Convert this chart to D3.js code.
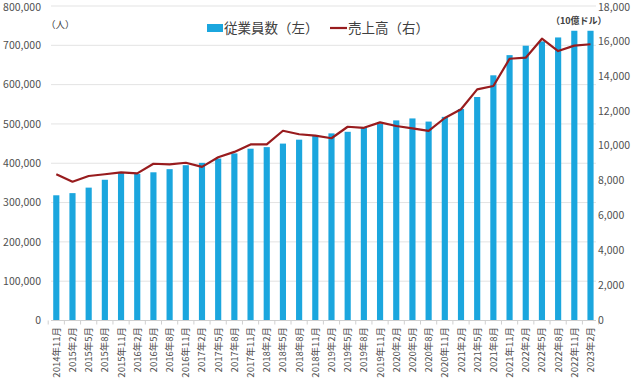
<!DOCTYPE html>
<html><head><meta charset="utf-8">
<script src="https://cdn.jsdelivr.net/npm/d3@7"></script>
<style>
html,body{margin:0;padding:0;background:#fff;}
text{font-family:"Noto Sans CJK JP","Noto Sans",sans-serif;}
</style></head>
<body><svg id="c" width="640" height="382"></svg>
<script>
const categories = ["2014年11月","2015年2月","2015年5月","2015年8月","2015年11月","2016年2月","2016年5月","2016年8月","2016年11月","2017年2月","2017年5月","2017年8月","2017年11月","2018年2月","2018年5月","2018年8月","2018年11月","2019年2月","2019年5月","2019年8月","2019年11月","2020年2月","2020年5月","2020年8月","2020年11月","2021年2月","2021年5月","2021年8月","2021年11月","2022年2月","2022年5月","2022年8月","2022年11月","2023年2月"];
const employees = [318500,324000,338000,358000,375000,373000,377000,385000,395000,401000,412000,425000,437000,441000,450000,460000,470000,476000,480000,490000,501000,509000,514000,506000,518000,538000,568500,623700,675000,699000,710000,720000,737000,737000];
const revenue = [8370,7940,8270,8370,8480,8420,8970,8940,9030,8790,9340,9650,10080,10080,10860,10660,10580,10430,11090,11030,11340,11130,11000,10850,11590,12090,13230,13420,14980,15040,16130,15420,15730,15810];
const leftTicks = [0,100000,200000,300000,400000,500000,600000,700000,800000];
const rightTicks = [0,2000,4000,6000,8000,10000,12000,14000,16000,18000];
const legendLabels = ["従業員数（左）","売上高（右）"];
const leftUnit = "（人）";
const rightUnit = "（10億ドル）";

const svg = d3.select("#c");
const barColor = "#1BA6DE", lineColor = "#981C1E", txt = "#505050";
const x = d3.scaleBand().domain(categories).range([48.2, 598.6]).paddingInner(0.62).paddingOuter(0.31);
const yL = d3.scaleLinear().domain([0,800000]).range([320.5,6]);
const yR = d3.scaleLinear().domain([0,18000]).range([320.5,6]);
const fmt = d3.format(",");

// gridlines
svg.append("g").selectAll("line").data(leftTicks.slice(1)).join("line")
  .attr("x1",51).attr("x2",596).attr("y1",d=>yL(d)).attr("y2",d=>yL(d))
  .attr("stroke","#E3E3E3").attr("stroke-width",1);

// bars
svg.append("g").selectAll("rect").data(categories).join("rect")
  .attr("x",(d)=>x(d)).attr("width",x.bandwidth())
  .attr("y",(d,i)=>yL(employees[i])).attr("height",(d,i)=>yL(0)-yL(employees[i]))
  .attr("fill",barColor);

// baseline
svg.append("line").attr("x1",51).attr("x2",596).attr("y1",yL(0)).attr("y2",yL(0))
  .attr("stroke","#D0D0D0");
// category ticks
const step = x.step();
svg.append("g").selectAll("line").data(d3.range(categories.length+1)).join("line")
  .attr("x1",i=>48.2+i*step).attr("x2",i=>48.2+i*step)
  .attr("y1",yL(0)).attr("y2",yL(0)+4).attr("stroke","#D0D0D0");

// line
const line = d3.line().x((d,i)=>x(categories[i])+x.bandwidth()/2).y(d=>yR(d));
svg.append("path").datum(revenue).attr("d",line).attr("fill","none")
  .attr("stroke",lineColor).attr("stroke-width",2.2).attr("stroke-linejoin","round");

// left axis labels
svg.append("g").selectAll("text").data(leftTicks).join("text")
  .attr("x",41).attr("y",d=>Math.max(yL(d),7.5)).attr("dy","0.35em").attr("text-anchor","end")
  .attr("font-size",10.5).attr("fill",txt).text(d=>fmt(d));
// right axis labels
svg.append("g").selectAll("text").data(rightTicks).join("text")
  .attr("x",598).attr("y",d=>Math.max(yR(d),7.5)).attr("dy","0.35em").attr("text-anchor","start")
  .attr("font-size",10.5).attr("fill",txt).text(d=>fmt(d));

// category labels
svg.append("g").selectAll("text").data(categories).join("text")
  .attr("transform",d=>`translate(${x(d)+x.bandwidth()/2+3.5},${327}) rotate(-90)`)
  .attr("text-anchor","end").attr("font-size",9.5).attr("fill",txt).text(d=>d);

// units
svg.append("text").attr("x",46).attr("y",25).attr("dy","0.35em").attr("font-size",9.5).attr("fill","#404040").text(leftUnit);
svg.append("text").attr("x",551).attr("y",21).attr("dy","0.35em").attr("font-size",9).attr("font-weight","bold").attr("fill","#404040").text(rightUnit);

// legend
svg.append("rect").attr("x",207).attr("y",24).attr("width",16).attr("height",8).attr("fill",barColor);
svg.append("text").attr("x",224).attr("y",28).attr("dy","0.35em").attr("font-size",13.5).attr("fill","#404040").text(legendLabels[0]);
svg.append("line").attr("x1",330).attr("x2",347).attr("y1",28).attr("y2",28).attr("stroke",lineColor).attr("stroke-width",2.2);
svg.append("text").attr("x",348).attr("y",28).attr("dy","0.35em").attr("font-size",13.5).attr("fill","#404040").text(legendLabels[1]);
</script></body></html>
